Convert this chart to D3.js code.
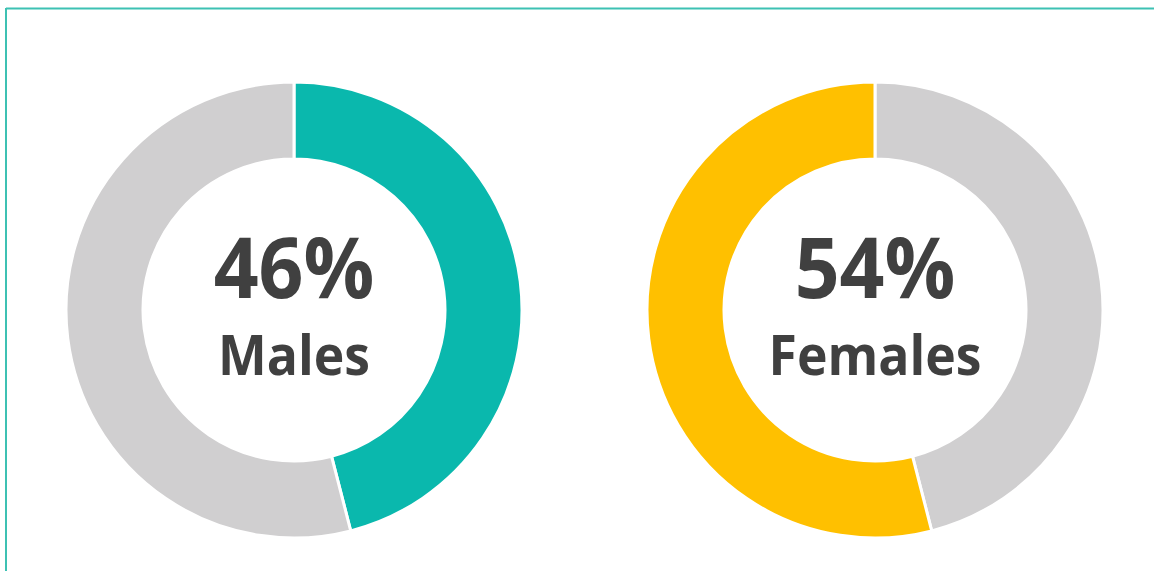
<!DOCTYPE html>
<html>
<meta charset="utf-8">
<style>
body {
	margin: 0;
	background: #fff;
}
.pct {
	font-family: "Open Sans", sans-serif;
	font-weight: bold;
	fill: #404040;
}
</style>
<body>
<script src="https://d3js.org/d3.v7.min.js"></script>
<script>
var width = 1154, height = 571;

// chart data
var groups = ["Males", "Females"];
var shares = [46, 54];
var colors = ["#0ab8ad", "#ffc000"];
var restColor = "#d0cfd0";

var svg = d3.select("body").append("svg")
    .attr("width", width)
    .attr("height", height);

// frame lines (top and left only)
svg.append("line")
    .attr("x1", 6).attr("x2", width).attr("y1", 8.5).attr("y2", 8.5)
    .style("stroke", "#3dc1b3").style("stroke-width", 2);
svg.append("line")
    .attr("x1", 6).attr("x2", 6).attr("y1", 8).attr("y2", height)
    .style("stroke", "#3dc1b3").style("stroke-width", 2);

var x = d3.scalePoint().domain(groups).range([294, 875]);
var cy = 310;

var arc = d3.arc().innerRadius(151).outerRadius(228);

groups.forEach(function(g, i) {
  // males: share first clockwise; females: rest first, then share
  var parts = i === 0
    ? [{v: shares[i], c: colors[i]}, {v: 100 - shares[i], c: restColor}]
    : [{v: 100 - shares[i], c: restColor}, {v: shares[i], c: colors[i]}];

  var pie = d3.pie().sort(null).value(function(d) { return d.v; });

  var gg = svg.append("g")
      .attr("transform", "translate(" + x(g) + "," + cy + ")");

  gg.selectAll("path")
      .data(pie(parts))
    .enter().append("path")
      .attr("d", arc)
      .style("fill", function(d) { return d.data.c; })
      .style("stroke", "#fff")
      .style("stroke-width", 3);

  // narrow the glyphs a bit, the original face is a condensed one
  gg.append("text")
      .attr("class", "pct")
      .attr("transform", "translate(0,-12) scale(0.925,1)")
      .attr("text-anchor", "middle")
      .style("font-size", "85px")
      .text(shares[i] + "%");

  gg.append("text")
      .attr("class", "pct")
      .attr("transform", "translate(0,65) scale(0.94,1)")
      .attr("text-anchor", "middle")
      .style("font-size", "55px")
      .text(g);
});
</script>
</body>
</html>
